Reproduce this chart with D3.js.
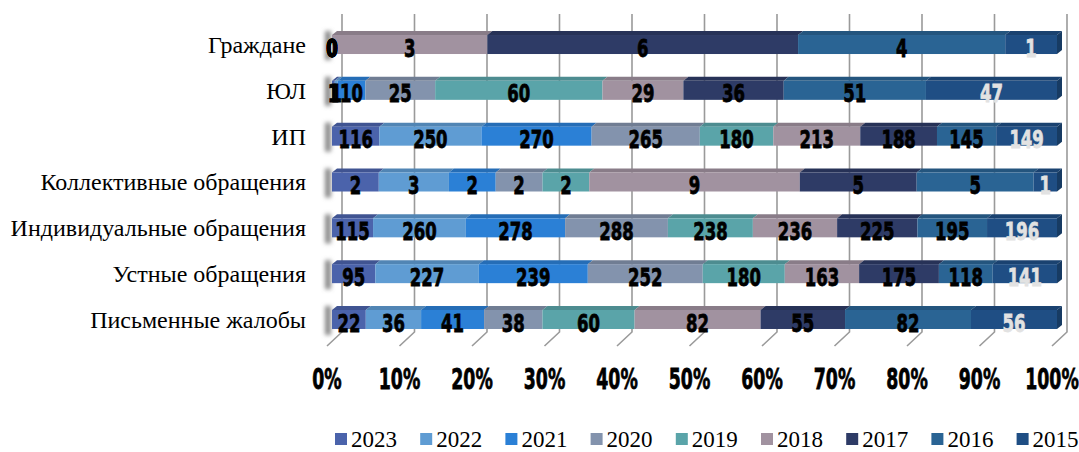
<!DOCTYPE html>
<html>
<head>
<meta charset="utf-8">
<script src="https://cdn.jsdelivr.net/npm/d3@7"></script>
<style>
  body { margin: 0; background: #fff; }
  svg { display: block; }
</style>
</head>
<body>
<div id="chart"></div>
<script>
const categories = ["Граждане", "ЮЛ", "ИП", "Коллективные обращения", "Индивидуальные обращения", "Устные обращения", "Письменные жалобы"];
const years = ["2023", "2022", "2021", "2020", "2019", "2018", "2017", "2016", "2015"];
const colors = ["#4b63ab", "#5f9cd3", "#2b80d6", "#8393ad", "#5aa4a9", "#a192a0", "#2e3b66", "#2a6494", "#1f4e84"];

const v2023 = [0, 1, 116, 2, 115, 95, 22];
const v2022 = [0, 1, 250, 3, 260, 227, 36];
const v2021 = [0, 10, 270, 2, 278, 239, 41];
const v2020 = [0, 25, 265, 2, 288, 252, 38];
const v2019 = [0, 60, 180, 2, 238, 180, 60];
const v2018 = [3, 29, 213, 9, 236, 163, 82];
const v2017 = [6, 36, 188, 5, 225, 175, 55];
const v2016 = [4, 51, 145, 5, 195, 118, 82];
const v2015 = [1, 47, 149, 1, 196, 141, 56];
const series = [v2023, v2022, v2021, v2020, v2019, v2018, v2017, v2016, v2015];

const ticks = [0, 0.1, 0.2, 0.3, 0.4, 0.5, 0.6, 0.7, 0.8, 0.9, 1];

const width = 1079, height = 452;
const barH = 19, depthX = 5, depthY = 4;
const wallX = 10, floorTop = 332, floorBottom = 346, floorDx = -15;
const boldFont = "'DejaVu Sans', sans-serif";
const serifFont = "'Liberation Serif', 'Times New Roman', serif";

const svg = d3.select("#chart").append("svg")
  .attr("width", width)
  .attr("height", height);

const defs = svg.append("defs");
defs.append("filter").attr("id", "blur")
  .attr("x", "-100%").attr("y", "-50%").attr("width", "300%").attr("height", "200%")
  .append("feGaussianBlur").attr("stdDeviation", 2);

const x = d3.scaleLinear().domain([0, 1]).range([332, 1057]);
const y = d3.scalePoint().domain(categories).range([21.6, 342.4]).padding(0.5);

// rows of stacked shares
const rows = categories.map((c, i) => {
  const vals = series.map(s => s[i]);
  const total = d3.sum(vals);
  let acc = 0;
  const segs = vals.map((v, k) => {
    const s = { year: years[k], value: v, x0: acc / total, x1: (acc + v) / total, color: colors[k], k: k };
    acc += v;
    return s;
  });
  return { cat: c, segs: segs };
});

// grid lines on back wall + floor
svg.append("g")
  .attr("stroke", "#9a9a9a")
  .attr("stroke-width", 1.6)
  .attr("fill", "none")
  .selectAll("path")
  .data(ticks)
  .join("path")
  .attr("d", t => {
    const bx = x(t) + wallX;
    return `M${bx},14 L${bx},${floorTop} L${bx + floorDx},${floorBottom}`;
  });

// soft shadow on left wall
svg.append("g")
  .selectAll("rect")
  .data(rows)
  .join("rect")
  .attr("x", 325)
  .attr("y", d => y(d.cat) - barH / 2 - depthY)
  .attr("width", 6)
  .attr("height", barH + depthY + 6)
  .attr("fill", "#8a8a8a")
  .attr("filter", "url(#blur)");

const rowG = svg.append("g")
  .selectAll("g")
  .data(rows)
  .join("g")
  .attr("transform", d => `translate(0,${y(d.cat) - barH / 2})`);

// top faces
rowG.selectAll("path.top")
  .data(d => d.segs.filter(s => s.value > 0))
  .join("path")
  .attr("class", "top")
  .attr("fill", d => d3.color(d.color).darker(0.45))
  .attr("d", d => {
    const a = x(d.x0), b = x(d.x1);
    return `M${a},0 L${a + depthX},${-depthY} L${b + depthX},${-depthY} L${b},0 Z`;
  });

// front faces
rowG.selectAll("rect.front")
  .data(d => d.segs.filter(s => s.value > 0))
  .join("rect")
  .attr("class", "front")
  .attr("x", d => x(d.x0))
  .attr("y", 0)
  .attr("width", d => x(d.x1) - x(d.x0))
  .attr("height", barH)
  .attr("fill", d => d.color);

// right side face
rowG.append("path")
  .attr("fill", d3.color(colors[colors.length - 1]).darker(0.8))
  .attr("d", `M${x(1)},0 L${x(1) + depthX},${-depthY} L${x(1) + depthX},${barH - depthY} L${x(1)},${barH} Z`);

// value labels (condensed heavy look)
rowG.selectAll("text")
  .data(d => d.segs)
  .join("text")
  .attr("transform", d => `translate(${(x(d.x0) + x(d.x1)) / 2},${barH / 2 + 3}) scale(0.66,1)`)
  .attr("dy", "0.36em")
  .attr("text-anchor", "middle")
  .attr("font-family", boldFont)
  .attr("font-weight", "bold")
  .attr("font-size", 25)
  .attr("fill", d => d.k === 8 ? "#e2e2e2" : "#000")
  .attr("stroke", d => d.k === 8 ? "#e2e2e2" : "#000")
  .attr("stroke-width", 0.8)
  .text(d => d.value);

// category labels
svg.append("g")
  .selectAll("text")
  .data(categories)
  .join("text")
  .attr("x", 306)
  .attr("y", d => y(d))
  .attr("dy", "0.35em")
  .attr("text-anchor", "end")
  .attr("font-family", serifFont)
  .attr("font-size", 24)
  .attr("fill", "#000")
  .text(d => d);

// x tick labels
svg.append("g")
  .selectAll("text")
  .data(ticks)
  .join("text")
  .attr("transform", t => `translate(${x(t) - 5},389) scale(0.62,1)`)
  .attr("text-anchor", "middle")
  .attr("font-family", boldFont)
  .attr("font-weight", "bold")
  .attr("font-size", 28)
  .attr("fill", "#000")
  .attr("stroke", "#000")
  .attr("stroke-width", 0.8)
  .text(d3.format(".0%"));

// legend
const legend = svg.append("g")
  .selectAll("g")
  .data(years)
  .join("g")
  .attr("transform", (d, i) => `translate(${335 + i * 85.2},433)`);

legend.append("rect")
  .attr("width", 12)
  .attr("height", 12)
  .attr("fill", (d, i) => colors[i]);

legend.append("text")
  .attr("x", 16)
  .attr("y", 14)
  .attr("font-family", serifFont)
  .attr("font-size", 23)
  .attr("fill", "#000")
  .text(d => d);
</script>
</body>
</html>
